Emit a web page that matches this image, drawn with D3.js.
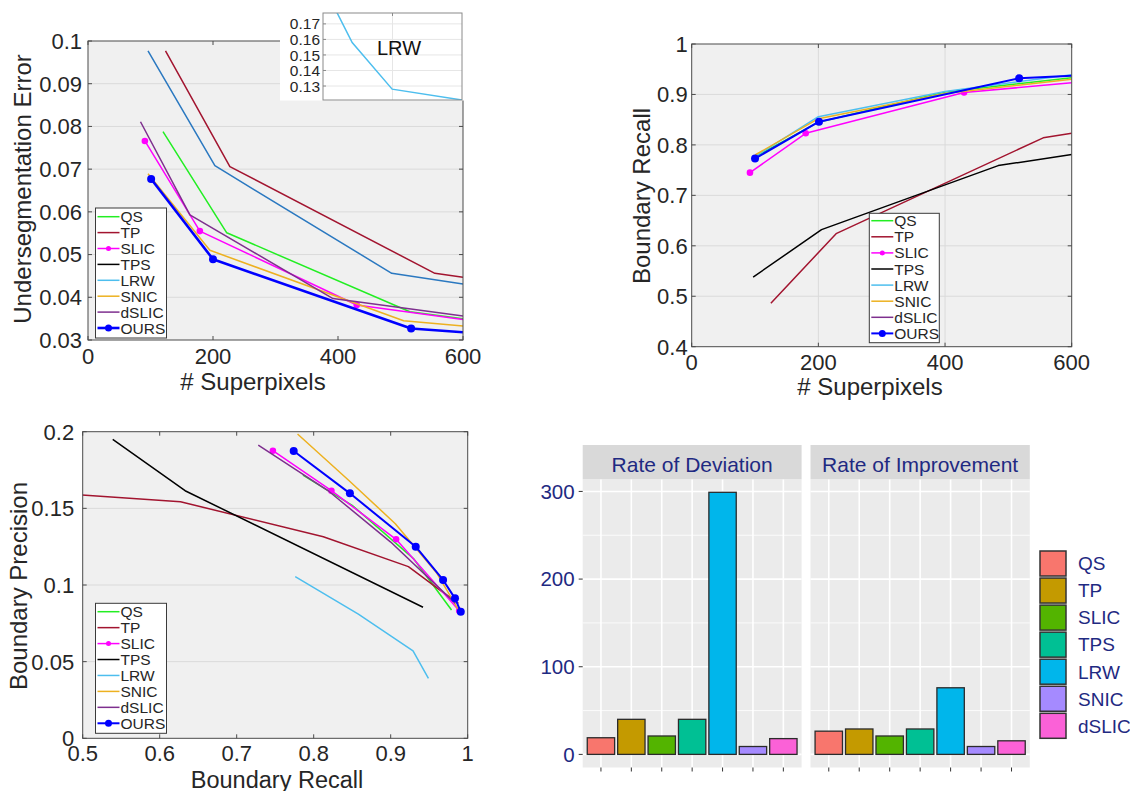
<!DOCTYPE html>
<html>
<head>
<meta charset="utf-8">
<script src="https://cdn.jsdelivr.net/npm/d3@7"></script>
<style>
  body { margin: 0; background: #fff; }
  svg { display: block; font-family: "Liberation Sans", Arial, sans-serif; }
</style>
</head>
<body>
<svg id="chart" width="1130" height="791"></svg>
<script>
// ---- data ----
const methods = ["QS", "TP", "SLIC", "TPS", "LRW", "SNIC", "dSLIC", "OURS"];

// undersegmentation error vs # superpixels
const ueQS    = [[120, 0.0788], [222, 0.0551], [515, 0.0366], [600, 0.0350]];
const ueTP    = [[124, 0.0977], [227, 0.0706], [555, 0.0456], [600, 0.0447]];
const ueSLIC  = [[91, 0.0766], [179, 0.0555], [430, 0.0382], [600, 0.0348]];
const ueTPS   = [[96, 0.0977], [203, 0.0708], [486, 0.0456], [600, 0.0431]];
const ueLRW   = [[100, 0.239], [284, 0.158], [399, 0.128], [600, 0.121]];
const ueSNIC  = [[96, 0.0689], [195, 0.0510], [505, 0.0345], [600, 0.0333]];
const ueDSLIC = [[84, 0.0811], [163, 0.0593], [392, 0.0397], [600, 0.0356]];
const ueOURS  = [[101, 0.0677], [200, 0.0489], [517, 0.0327], [600, 0.0318]];

// boundary recall vs # superpixels
const brQS    = [[100, 0.776], [200, 0.845], [400, 0.905], [600, 0.933]];
const brTP    = [[125, 0.486], [228, 0.624], [555, 0.814], [600, 0.823]];
const brSLIC  = [[92, 0.745], [180, 0.823], [430, 0.904], [600, 0.923]];
const brTPS   = [[97, 0.538], [205, 0.632], [484, 0.759], [600, 0.781]];
const brLRW   = [[100, 0.777], [200, 0.856], [400, 0.906], [600, 0.939]];
const brSNIC  = [[100, 0.780], [200, 0.852], [400, 0.902], [600, 0.930]];
const brDSLIC = [];
const brOURS  = [[100, 0.773], [201, 0.846], [517, 0.932], [600, 0.937]];

// boundary precision vs boundary recall
const bpQS    = [[0.786, 0.1717], [0.85, 0.152], [0.93, 0.117], [0.979, 0.0837]];
const bpTP    = [[0.49, 0.159], [0.627, 0.1543], [0.8125, 0.1315], [0.923, 0.112], [0.964, 0.0967], [0.988, 0.088]];
const bpSLIC  = [[0.747, 0.1876], [0.823, 0.1615], [0.907, 0.1298], [0.989, 0.0832]];
const bpTPS   = [[0.539, 0.195], [0.633, 0.1615], [0.942, 0.0855]];
const bpLRW   = [[0.776, 0.1054], [0.858, 0.081], [0.929, 0.0571], [0.949, 0.0391]];
const bpSNIC  = [[0.779, 0.1985], [0.845, 0.1685], [0.906, 0.140], [0.96, 0.1076], [0.988, 0.0837]];
const bpDSLIC = [[0.728, 0.1913], [0.82, 0.161], [0.90, 0.128], [0.984, 0.088]];
const bpOURS  = [[0.774, 0.1874], [0.847, 0.1598], [0.9325, 0.125], [0.968, 0.1033], [0.9835, 0.0913], [0.991, 0.0826]];

// bar panels
const barNames = ["QS", "TP", "SLIC", "TPS", "LRW", "SNIC", "dSLIC"];
const deviation = [19, 40, 21, 40, 299, 9, 18];
const improvement = [26.5, 29, 21, 29, 76, 9, 15.5];
const facetTitles = ["Rate of Deviation", "Rate of Improvement"];
const barTicks = [0, 100, 200, 300];

// ---- styles ----
const lineColour = {QS: "#22ee22", TP: "#a2142f", SLIC: "#ff00ff", TPS: "#000000",
    LRW: "#4dbeee", SNIC: "#edb120", dSLIC: "#7e2f8e", OURS: "#0000ff"};
const barColours = ["#F8766D", "#C49A00", "#53B400", "#00C094", "#00B6EB", "#A58AFF", "#FB61D7"];
const axisGrey = "#262626";
const navy = "#1f2a82";

const svg = d3.select("#chart");

function seriesList(arrs, overrides) {
    return methods.map(function (m, i) {
        return {name: m, pts: arrs[i], colour: (overrides && overrides[m]) || lineColour[m]};
    });
}

function drawMatlabPanel(p) {
    const x = d3.scaleLinear().domain(p.xDomain).range([p.left, p.right]);
    const y = d3.scaleLinear().domain(p.yDomain).range([p.bottom, p.top]);
    const g = svg.append("g");

    g.append("clipPath").attr("id", "clip" + p.id)
        .append("rect")
        .attr("x", p.left).attr("y", p.top)
        .attr("width", p.right - p.left).attr("height", p.bottom - p.top);

    g.append("rect")
        .attr("x", p.left).attr("y", p.top)
        .attr("width", p.right - p.left).attr("height", p.bottom - p.top)
        .attr("fill", "#f0f0f0");

    // grid
    g.selectAll(".hg").data(p.yTicks.slice(1, -1)).enter().append("line")
        .attr("x1", p.left).attr("x2", p.right)
        .attr("y1", d => y(d)).attr("y2", d => y(d))
        .attr("stroke", "#dadada").attr("stroke-width", 1);
    if (p.vGrid) {
        g.selectAll(".vg").data(p.xTicks.slice(1, -1)).enter().append("line")
            .attr("y1", p.top).attr("y2", p.bottom)
            .attr("x1", d => x(d)).attr("x2", d => x(d))
            .attr("stroke", "#dadada").attr("stroke-width", 1);
    }

    const line = d3.line().x(d => x(d[0])).y(d => y(d[1]));
    const plot = g.append("g").attr("clip-path", "url(#clip" + p.id + ")");
    p.series.forEach(function (s) {
        if (!s.pts.length || s.hidden) return;
        const w = s.name === "OURS" ? p.oursWidth : 1.5;
        plot.append("path")
            .datum(s.pts)
            .attr("d", line)
            .attr("fill", "none")
            .attr("stroke", s.colour)
            .attr("stroke-width", w)
            .attr("stroke-linejoin", "round");
        if (s.name === "OURS" || s.name === "SLIC") {
            plot.selectAll(null)
                .data(s.pts.filter(d => d[0] < p.xDomain[1]))
                .enter()
                .append("circle")
                .attr("cx", d => x(d[0]))
                .attr("cy", d => y(d[1]))
                .attr("r", s.name === "OURS" ? 4 : 3.3)
                .attr("fill", s.colour);
        }
    });

    // frame + inward ticks
    g.append("rect")
        .attr("x", p.left).attr("y", p.top)
        .attr("width", p.right - p.left).attr("height", p.bottom - p.top)
        .attr("fill", "none").attr("stroke", "#4a4a4a").attr("stroke-width", 1);
    const tl = 4;
    p.xTicks.forEach(function (t) {
        g.append("line").attr("x1", x(t)).attr("x2", x(t)).attr("y1", p.bottom).attr("y2", p.bottom - tl).attr("stroke", "#4a4a4a");
        g.append("line").attr("x1", x(t)).attr("x2", x(t)).attr("y1", p.top).attr("y2", p.top + tl).attr("stroke", "#4a4a4a");
        g.append("text").attr("x", x(t)).attr("y", p.bottom + p.xLabelGap)
            .attr("text-anchor", "middle").attr("font-size", 22).attr("fill", axisGrey)
            .text(p.xFmt(t));
    });
    p.yTicks.forEach(function (t) {
        g.append("line").attr("x1", p.left).attr("x2", p.left + tl).attr("y1", y(t)).attr("y2", y(t)).attr("stroke", "#4a4a4a");
        g.append("line").attr("x1", p.right).attr("x2", p.right - tl).attr("y1", y(t)).attr("y2", y(t)).attr("stroke", "#4a4a4a");
        g.append("text").attr("x", p.left - p.yLabelGap).attr("y", y(t)).attr("dy", "0.36em")
            .attr("text-anchor", "end").attr("font-size", 22).attr("fill", axisGrey)
            .text(p.yFmt(t));
    });

    // axis titles
    g.append("text")
        .attr("x", p.xTitle[0]).attr("y", p.xTitle[1])
        .attr("text-anchor", "middle").attr("font-size", p.titleSize || 24).attr("fill", axisGrey)
        .text(p.xTitle[2]);
    g.append("text")
        .attr("transform", "translate(" + p.yTitle[0] + "," + p.yTitle[1] + ") rotate(-90)")
        .attr("text-anchor", "middle").attr("font-size", 24).attr("fill", axisGrey)
        .text(p.yTitle[2]);

    // legend
    const L = p.legend;
    const lg = g.append("g");
    lg.append("rect")
        .attr("x", L.x).attr("y", L.y).attr("width", L.w).attr("height", L.h)
        .attr("fill", "#fff").attr("stroke", "#3a3a3a").attr("stroke-width", 1);
    methods.forEach(function (m, i) {
        const cy = L.first + i * L.step;
        lg.append("line")
            .attr("x1", L.x + 2).attr("x2", L.x + 24)
            .attr("y1", cy).attr("y2", cy)
            .attr("stroke", lineColour[m])
            .attr("stroke-width", m === "OURS" ? p.oursWidth : 1.5);
        if (m === "OURS" || m === "SLIC") {
            lg.append("circle").attr("cx", L.x + 13).attr("cy", cy)
                .attr("r", m === "OURS" ? 3.5 : 2.5).attr("fill", lineColour[m]);
        }
        lg.append("text")
            .attr("x", L.x + 25).attr("y", cy).attr("dy", "0.36em")
            .attr("font-size", 15.5).attr("fill", axisGrey)
            .text(m);
    });

    return {x: x, y: y, g: g};
}

const fmt = d => String(+d.toFixed(2));

// ---- panel 1: undersegmentation error ----
drawMatlabPanel({
    id: 1, left: 88, right: 463, top: 41, bottom: 340,
    xDomain: [0, 600], yDomain: [0.03, 0.1],
    xTicks: [0, 200, 400, 600], yTicks: [0.03, 0.04, 0.05, 0.06, 0.07, 0.08, 0.09, 0.1],
    xFmt: fmt, yFmt: fmt, vGrid: false, oursWidth: 2.6,
    xLabelGap: 24, yLabelGap: 6,
    series: seriesList([ueQS, ueTP, ueSLIC, ueTPS, ueLRW, ueSNIC, ueDSLIC, ueOURS], {TPS: "#2a78c0"})
        .map(s => s.name === "LRW" ? Object.assign(s, {hidden: true}) : s),
    xTitle: [253, 390, "# Superpixels"],
    yTitle: [31, 189, "Undersegmentation Error"],
    legend: {x: 95.5, y: 208, w: 71, h: 130, first: 216.7, step: 15.9}
});

// inset with LRW
(function () {
    const il = 323, ir = 462, it = 13, ib = 100;
    const x = d3.scaleLinear().domain([200, 600]).range([il, ir]);
    const y = d3.scaleLinear().domain([0.121, 0.177]).range([ib, it]);
    const g = svg.append("g");
    g.append("rect").attr("x", 280).attr("y", 0).attr("width", 184).attr("height", 100.5).attr("fill", "#fff");
    g.append("clipPath").attr("id", "clipInset").append("rect")
        .attr("x", il).attr("y", it).attr("width", ir - il).attr("height", ib - it);
    const yt = [0.13, 0.14, 0.15, 0.16, 0.17];
    g.selectAll(".ig").data(yt).enter().append("line")
        .attr("x1", il).attr("x2", ir).attr("y1", d => y(d)).attr("y2", d => y(d))
        .attr("stroke", "#e6e6e6");
    g.append("line").attr("x1", x(400)).attr("x2", x(400)).attr("y1", it).attr("y2", ib).attr("stroke", "#e6e6e6");
    g.append("path")
        .datum(ueLRW)
        .attr("clip-path", "url(#clipInset)")
        .attr("d", d3.line().x(d => x(d[0])).y(d => y(d[1])))
        .attr("fill", "none").attr("stroke", lineColour.LRW).attr("stroke-width", 1.5);
    g.append("rect").attr("x", il).attr("y", it).attr("width", ir - il).attr("height", ib - it)
        .attr("fill", "none").attr("stroke", "#8a8a8a");
    yt.forEach(function (t) {
        g.append("line").attr("x1", il).attr("x2", il + 3).attr("y1", y(t)).attr("y2", y(t)).attr("stroke", "#8a8a8a");
        g.append("text").attr("x", 320).attr("y", y(t)).attr("dy", "0.36em")
            .attr("text-anchor", "end").attr("font-size", 15.5).attr("fill", axisGrey)
            .text(fmt(t));
    });
    g.append("line").attr("x1", x(400)).attr("x2", x(400)).attr("y1", it).attr("y2", it + 3).attr("stroke", "#8a8a8a");
    g.append("text").attr("x", 399).attr("y", 55).attr("text-anchor", "middle")
        .attr("font-size", 20).attr("fill", "#111").text("LRW");
})();

// ---- panel 2: boundary recall ----
drawMatlabPanel({
    id: 2, left: 691.7, right: 1071.7, top: 44, bottom: 346.7,
    xDomain: [0, 600], yDomain: [0.4, 1],
    xTicks: [0, 200, 400, 600], yTicks: [0.4, 0.5, 0.6, 0.7, 0.8, 0.9, 1],
    xFmt: fmt, yFmt: fmt, vGrid: true, oursWidth: 2,
    xLabelGap: 23, yLabelGap: 4,
    series: seriesList([brQS, brTP, brSLIC, brTPS, brLRW, brSNIC, brDSLIC, brOURS]),
    xTitle: [870, 395, "# Superpixels"],
    yTitle: [650, 196, "Boundary Recall"],
    legend: {x: 869.3, y: 213.3, w: 70, h: 129.4, first: 220.7, step: 16.1}
});

// ---- panel 3: precision vs recall ----
drawMatlabPanel({
    id: 3, left: 82.7, right: 467.7, top: 431.7, bottom: 738.3,
    xDomain: [0.5, 1], yDomain: [0, 0.2],
    xTicks: [0.5, 0.6, 0.7, 0.8, 0.9, 1], yTicks: [0, 0.05, 0.1, 0.15, 0.2],
    xFmt: fmt, yFmt: fmt, vGrid: false, oursWidth: 2,
    xLabelGap: 23, yLabelGap: 8.5, titleSize: 23.5,
    series: seriesList([bpQS, bpTP, bpSLIC, bpTPS, bpLRW, bpSNIC, bpDSLIC, bpOURS]),
    xTitle: [277, 787.5, "Boundary Recall"],
    yTitle: [27, 586, "Boundary Precision"],
    legend: {x: 95.5, y: 603.3, w: 71, h: 130, first: 611.7, step: 15.94}
});

// ---- panel 4: faceted bars ----
(function () {
    const facets = [[582.7, 801.6], [810.5, 1029.8]];
    const values = [deviation, improvement];
    const stripTop = 445, panelTop = 479.2, panelBottom = 767.5;
    const maxVal = d3.max(deviation.concat(improvement));
    const y = d3.scaleLinear().domain([-0.05 * maxVal, maxVal * 1.05]).range([panelBottom, panelTop]);
    const minor = [50, 150, 250];

    facets.forEach(function (f, fi) {
        const x = d3.scalePoint().domain(barNames).range(f).padding(0.6);
        const bw = x.step() * 0.9;
        const g = svg.append("g");

        g.append("rect").attr("x", f[0]).attr("y", panelTop)
            .attr("width", f[1] - f[0]).attr("height", panelBottom - panelTop)
            .attr("fill", "#ebebeb");
        g.selectAll(".mn").data(minor).enter().append("line")
            .attr("x1", f[0]).attr("x2", f[1]).attr("y1", d => y(d)).attr("y2", d => y(d))
            .attr("stroke", "#fff").attr("stroke-width", 0.8);
        g.selectAll(".mj").data(barTicks).enter().append("line")
            .attr("x1", f[0]).attr("x2", f[1]).attr("y1", d => y(d)).attr("y2", d => y(d))
            .attr("stroke", "#fff").attr("stroke-width", 1.6);
        g.selectAll(".vx").data(barNames).enter().append("line")
            .attr("x1", d => x(d)).attr("x2", d => x(d)).attr("y1", panelTop).attr("y2", panelBottom)
            .attr("stroke", "#fff").attr("stroke-width", 1.6);

        g.selectAll(".bar").data(values[fi]).enter().append("rect")
            .attr("x", (d, i) => x(barNames[i]) - bw / 2)
            .attr("y", d => y(d))
            .attr("width", bw)
            .attr("height", d => y(0) - y(d))
            .attr("fill", (d, i) => barColours[i])
            .attr("stroke", "#2b2b2b").attr("stroke-width", 1.3);

        // strip
        g.append("rect").attr("x", f[0]).attr("y", stripTop)
            .attr("width", f[1] - f[0]).attr("height", panelTop - stripTop)
            .attr("fill", "#d9d9d9");
        g.append("text").attr("x", (f[0] + f[1]) / 2).attr("y", 472)
            .attr("text-anchor", "middle").attr("font-size", 21).attr("fill", navy)
            .text(facetTitles[fi]);

        // x ticks, no labels
        g.selectAll(".xt").data(barNames).enter().append("line")
            .attr("x1", d => x(d)).attr("x2", d => x(d))
            .attr("y1", panelBottom).attr("y2", panelBottom + 4)
            .attr("stroke", "#333").attr("stroke-width", 1);

        if (fi === 0) {
            barTicks.forEach(function (t) {
                g.append("line").attr("x1", f[0] - 4).attr("x2", f[0]).attr("y1", y(t)).attr("y2", y(t))
                    .attr("stroke", "#333");
                g.append("text").attr("x", f[0] - 8).attr("y", y(t)).attr("dy", "0.36em")
                    .attr("text-anchor", "end").attr("font-size", 20.5).attr("fill", navy)
                    .text(t);
            });
        }
    });

    // legend
    const lg = svg.append("g");
    barNames.forEach(function (m, i) {
        const ky = 551 + i * 27.05;
        lg.append("rect").attr("x", 1040).attr("y", ky).attr("width", 26).attr("height", 25)
            .attr("fill", barColours[i]).attr("stroke", "#333").attr("stroke-width", 1.5);
        lg.append("text").attr("x", 1078).attr("y", ky + 12.5).attr("dy", "0.36em")
            .attr("font-size", 19).attr("fill", navy).text(m);
    });
})();
</script>
</body>
</html>
